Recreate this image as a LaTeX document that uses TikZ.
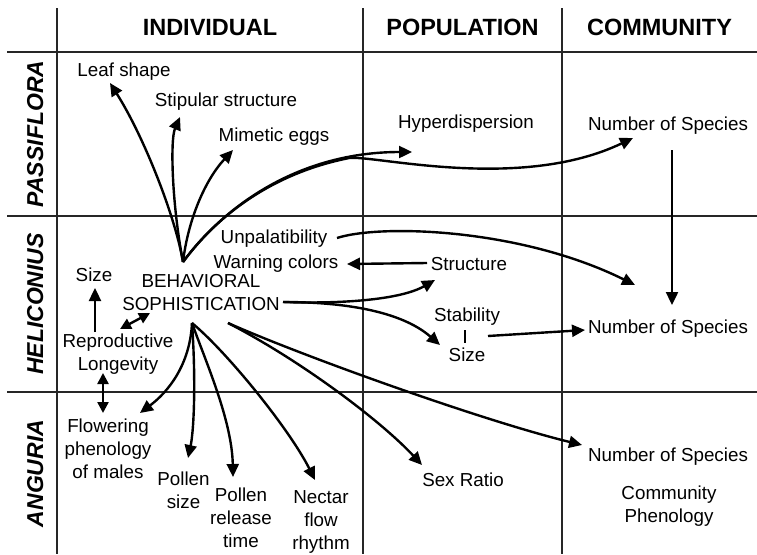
\documentclass[tikz,border=0pt]{standalone}
\usepackage{fontspec}
\setmainfont{Liberation Sans}
\usetikzlibrary{arrows.meta,calc}
\begin{document}
\begin{tikzpicture}[x=1pt,y=-1pt,
  grid/.style={line width=1.2pt, draw=black!85},
  lbl/.style={anchor=base, align=center, inner sep=0pt, font=\fontsize{18.8}{23}\selectfont},
  head/.style={anchor=base, inner sep=0pt, font=\fontsize{23.5}{28}\selectfont\bfseries},
  taxon/.style={anchor=base, rotate=90, inner sep=0pt, font=\fontsize{23}{28}\selectfont\bfseries\itshape},
  link/.style={line width=2.4pt},
  arr/.style={link, -{Triangle[length=13pt,width=12pt]}},
  darr/.style={link, {Triangle[length=11pt,width=11pt]}-{Triangle[length=11pt,width=11pt]}},
]
\path[fill=white] (0,0) rectangle (757,554);
\useasboundingbox (0,0) rectangle (757,554);

% table frame
\draw[grid] (57,8) -- (57,554);
\draw[grid] (363,8) -- (363,554);
\draw[grid] (562,8) -- (562,554);
\draw[grid] (7,52) -- (757,52);
\draw[grid] (7,216) -- (757,216);
\draw[grid] (7,392) -- (757,392);

% column and row headings
\node[head] (hind) at (210,35.7) {INDIVIDUAL};
\node[head] (hpop) at (462.5,35.7) {POPULATION};
\node[head] (hcom) at (659.5,35.7) {COMMUNITY};
\node[taxon] (rpas) at (43,134) {PASSIFLORA};
\node[taxon] (rhel) at (43,304) {HELICONIUS};
\node[taxon] (rang) at (43,473.5) {ANGURIA};

% traits (multi-line nodes sit on the baseline of their last line)
\node[lbl] (leaf) at (124,76.5) {Leaf shape};
\node[lbl] (stip) at (226,106.5) {Stipular structure};
\node[lbl] (mim) at (274,141.5) {Mimetic eggs};
\node[lbl] (hyp) at (466,128.5) {Hyperdispersion};
\node[lbl] (nos1) at (668,130.5) {Number of Species};
\node[lbl] (unp) at (274,243.5) {Unpalatibility};
\node[lbl] (warn) at (276,268.5) {Warning colors};
\node[lbl] (struc) at (469,270) {Structure};
\node[lbl] (bs) at (201,310.5) {BEHAVIORAL\\SOPHISTICATION};
\node[lbl] (lsize) at (94,281.5) {Size};
\node[lbl] (rl) at (118,370.5) {Reproductive\\Longevity};
\node[lbl] (stab) at (467,321.5) {Stability};
\node[lbl] (psize) at (467,361.5) {Size};
\node[lbl] (nos2) at (668,333.5) {Number of Species};
\node[lbl] (flow) at (108,478.5) {Flowering\\phenology\\of males};
\node[lbl] (psz) at (183.5,508) {Pollen\\size};
\node[lbl] (prt) at (241,547.5) {Pollen\\release\\time};
\node[lbl] (nfr) at (321,549.5) {Nectar\\flow\\rhythm};
\node[lbl] (sex) at (463,486.5) {Sex Ratio};
\node[lbl] (nos3) at (668,461.5) {Number of Species};
\node[lbl] (cph) at (669,522) {Community\\Phenology};

% fan-out points around the central node
\coordinate (o1) at ($(bs.base)+(-18,-48.5)$);
\coordinate (o2) at ($(bs.base)+(82,-8.5)$);
\coordinate (o3) at ($(bs.base)+(-9,12.5)$);
\coordinate (o4) at ($(bs.base)+(27,12.5)$);
\coordinate (fork) at (349.3,158);

% upward fan
\draw[arr] (o1) .. controls (175,215) and (143,135) .. ($(leaf.base)+(-14,6.5)$);
\draw[arr] (o1) .. controls (172,205) and (170,140) .. ($(stip.base)+(-46,10.5)$);
\draw[arr] (o1) .. controls (188,220) and (205,180) .. ($(mim.base)+(-41,8.5)$);
\draw[arr] (o1) .. controls (225,205) and (300,152) .. ($(hyp.base)+(-54,23.5)$);
\draw[arr] (o1) .. controls (216.6,216.4) and (271.3,173.4) .. (fork)
  .. controls (375,155) and (520,192) .. ($(nos1.base)+(-35,7.5)$);
\draw[arr] ($(nos1.base)+(4,19.5)$) -- ($(nos2.base)+(4,-28.5)$);

% middle row
\draw[arr] ($(unp.base)+(63,-5.5)$) .. controls (380,224) and (520,228) .. ($(nos2.base)+(-33,-48.5)$);
\draw[arr] ($(struc.base)+(-42,-7)$) -- ($(warn.base)+(71,-4.5)$);
\draw[arr] (o2) .. controls (340,304) and (400,300) .. ($(struc.base)+(-34,10)$);
\draw[arr] (o2) .. controls (340,302) and (400,310) .. ($(psize.base)+(-27,-16.5)$);
\draw[line width=2.5pt] ($(stab.base)+(-2,8.5)$) -- ($(psize.base)+(-2,-18.5)$);
\draw[arr] ($(stab.base)+(21,14.5)$) -- ($(nos2.base)+(-83,-3.5)$);
\draw[arr] ($(rl.base)+(-23,-38.5)$) -- ($(lsize.base)+(1,6.5)$);
\draw[darr] ($(rl.base)+(2,-41.5)$) -- ($(bs.base)+(-51,2.5)$);
\draw[darr] ($(rl.base)+(-15,2.5)$) -- ($(flow.base)+(-5,-65.5)$);

% downward fan
\draw[arr] (o3) .. controls (190,365) and (168,392) .. ($(flow.base)+(32,-65.5)$);
\draw[arr] (o3) .. controls (196,380) and (194,430) .. ($(psz.base)+(4.5,-50)$);
\draw[arr] (o3) .. controls (205,360) and (232,420) .. ($(prt.base)+(-8,-70.5)$);
\draw[arr] (o3) .. controls (228,353) and (290,430) .. ($(nfr.base)+(-6,-69.5)$);
\draw[arr] (o4) .. controls (300,360) and (380,420) .. ($(sex.base)+(-41,-21.5)$);
\draw[arr] (o4) .. controls (300,355) and (480,420) .. ($(nos3.base)+(-86,-16.5)$);
\end{tikzpicture}
\end{document}
